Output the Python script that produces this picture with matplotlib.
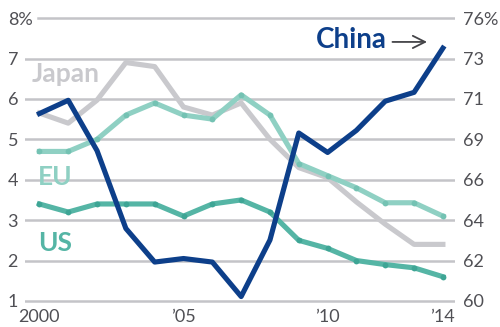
import matplotlib
matplotlib.use("Agg")
import matplotlib.pyplot as plt

years = list(range(2000, 2015))
japan = [5.65, 5.4, 5.97, 6.9, 6.8, 5.8, 5.6, 5.9, 5.0, 4.3, 4.05, 3.45, 2.9, 2.4, 2.4]
eu = [4.7, 4.7, 5.0, 5.6, 5.9, 5.6, 5.5, 6.1, 5.6, 4.4, 4.1, 3.8, 3.43, 3.43, 3.1]
us = [3.4, 3.2, 3.4, 3.4, 3.4, 3.1, 3.4, 3.5, 3.2, 2.5, 2.3, 2.0, 1.9, 1.82, 1.6]
china = [70.6, 71.35, 68.5, 64.1, 62.2, 62.4, 62.2, 60.25, 63.45, 69.5, 68.4, 69.65, 71.3, 71.8, 74.3]

left_ticks = [1, 2, 3, 4, 5, 6, 7, 8]
left_labels = ["1", "2", "3", "4", "5", "6", "7", "8%"]
right_labels = ["60", "62", "64", "66", "69", "71", "73", "76%"]
x_ticks = [2000, 2005, 2010, 2014]
x_labels = ["2000", "\u201905", "\u201910", "\u201914"]

FONT = "Lato"
c_china = "#0d3f8a"
c_japan = "#c9c9cd"
c_eu = "#8fd0c3"
c_eu_dot = "#74c2b3"
c_us = "#55b5a5"
c_us_dot = "#3ea595"
c_grid = "#c4c4c8"
c_text = "#505055"

fig = plt.figure(figsize=(5.0, 3.27), dpi=100)
ax = fig.add_axes([0.05, 0.0673, 0.86, 0.8897])
ax.set_xlim(1999.5, 2014.42)
ax.set_ylim(0.9, 8.1)

# gridlines
for t in left_ticks:
    xmin = 0.03 if t == 8 else 0.0
    ax.axhline(t, xmin=xmin, xmax=1.0, color=c_grid, lw=1.8, zorder=1)

lw = 3.7
ax.plot(years, japan, color=c_japan, lw=lw, zorder=2)
ax.plot(years, eu, color=c_eu, lw=lw, zorder=3, marker="o", markersize=4.2,
        markerfacecolor=c_eu_dot, markeredgecolor="none")
ax.plot(years, us, color=c_us, lw=lw, zorder=3, marker="o", markersize=4.2,
        markerfacecolor=c_us_dot, markeredgecolor="none")

ax2 = ax.twinx()
ax2.set_position(ax.get_position())
lo, hi = 60, 76
span = (hi - lo) / 7.0
ax2.set_ylim(lo - 0.1 * span, hi + 0.1 * span)
ax2.plot(years, china, color=c_china, lw=lw, zorder=5)

for a in (ax, ax2):
    for s in a.spines.values():
        s.set_visible(False)

ax.set_yticks(left_ticks)
ax.set_yticklabels(left_labels, fontsize=13, color=c_text, family=FONT)
ax.tick_params(axis="y", length=0, pad=12.5)
for lab in ax.get_yticklabels():
    lab.set_horizontalalignment("left")
ax.set_xticks(x_ticks)
ax.set_xticklabels(x_labels, fontsize=13, color=c_text, family=FONT)
ax.tick_params(axis="x", length=0, pad=3)

r_ticks = [lo + (t - 1) * span for t in left_ticks]
ax2.set_yticks(r_ticks)
ax2.set_yticklabels(right_labels, fontsize=13, color=c_text, family=FONT)
ax2.tick_params(axis="y", length=0, pad=6)

ax2.text(1999.72, 6.42, "Japan", fontsize=19, fontweight="bold", color=c_japan,
         family=FONT, va="baseline", ha="left", transform=ax.transData, zorder=6)
ax2.text(1999.95, 3.87, "EU", fontsize=19, fontweight="bold", color=c_eu,
         family=FONT, va="baseline", ha="left", transform=ax.transData, zorder=6)
ax2.text(1999.95, 2.24, "US", fontsize=19, fontweight="bold", color=c_us,
         family=FONT, va="baseline", ha="left", transform=ax.transData, zorder=6)
ax2.text(2012.05, 7.26, "China", fontsize=20, fontweight="bold", color=c_china,
         family=FONT, va="baseline", ha="right", transform=ax.transData, zorder=6)
ax2.annotate("", xy=(2013.45, 7.41), xytext=(2012.25, 7.41), xycoords=ax.transData,
             textcoords=ax.transData,
             arrowprops=dict(arrowstyle="->", color="#444448", lw=1.3,
                             mutation_scale=22, shrinkA=0, shrinkB=0))

fig.savefig("out.png", dpi=100)
